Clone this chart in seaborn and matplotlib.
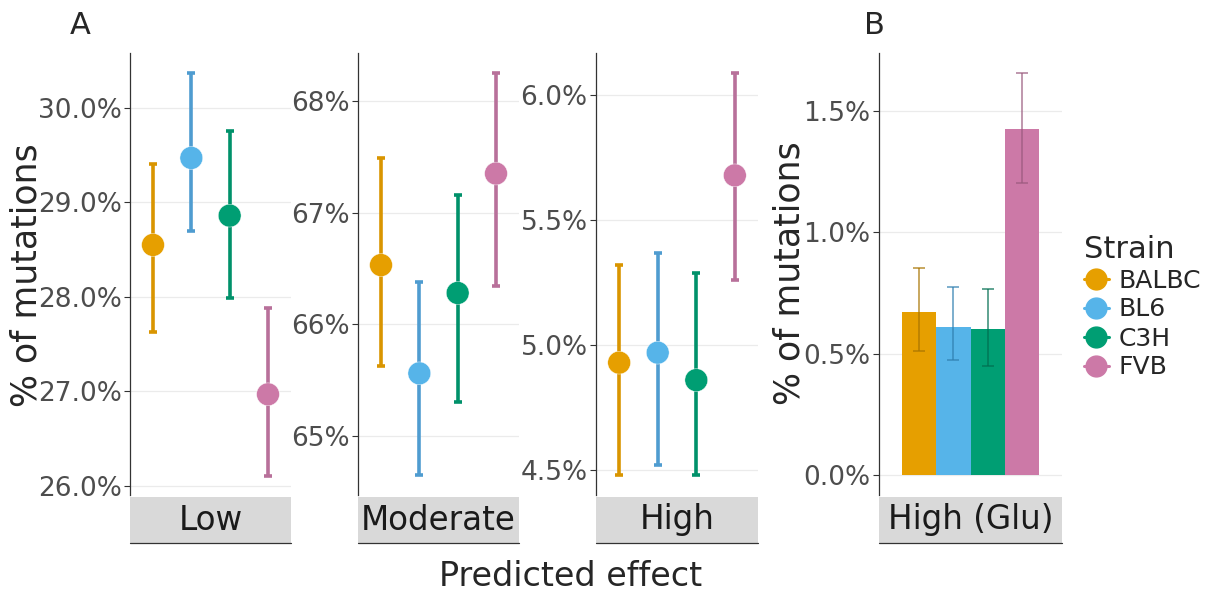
import numpy as np
import pandas as pd
import matplotlib.pyplot as plt
import seaborn as sns
from matplotlib.lines import Line2D
from matplotlib.patches import Rectangle
from matplotlib.ticker import FuncFormatter

sns.set_style("white")
plt.rcParams['font.family'] = ['DejaVu Sans']

# Data (percent of mutations)
strains = ['BALBC', 'BL6', 'C3H', 'FVB']
colors = ['#E69F00', '#56B4E9', '#009E73', '#CC79A7']
err_colors = ['#D99500', '#4F9CD0', '#00916A', '#B8709A']
bar_err_colors = ['#A87400', '#2F7FB0', '#006E50', '#9A5A7E']

low_mean = [28.55, 29.47, 28.86, 26.97]
low_lo = [27.63, 28.70, 27.99, 26.11]
low_hi = [29.41, 30.37, 29.75, 27.88]

mod_mean = [66.53, 65.56, 66.28, 67.35]
mod_lo = [65.63, 64.65, 65.30, 66.34]
mod_hi = [67.49, 66.38, 67.16, 68.25]

high_mean = [4.93, 4.97, 4.86, 5.68]
high_lo = [4.48, 4.52, 4.48, 5.26]
high_hi = [5.32, 5.37, 5.29, 6.09]

glu_mean = [0.672, 0.610, 0.602, 1.426]
glu_lo = [0.511, 0.474, 0.449, 1.203]
glu_hi = [0.853, 0.775, 0.766, 1.656]

W, H = 1212, 594
fig = plt.figure(figsize=(W / 100, H / 100), dpi=100)


def rect(x0, x1, y0, y1):
    return [x0 / W, 1 - y1 / H, (x1 - x0) / W, (y1 - y0) / H]


def style_axis(ax, label, fmt, ticks, ylim):
    ax.set_ylim(*ylim)
    ax.set_yticks(ticks)
    ax.yaxis.set_major_formatter(FuncFormatter(lambda v, p: fmt.format(v)))
    ax.tick_params(axis='y', labelsize=19, labelcolor='#4D4D4D', length=4,
                   width=0.8, color='#333333', left=True, pad=2)
    ax.tick_params(axis='x', bottom=False, labelbottom=False)
    ax.set_xlabel('')
    ax.set_ylabel('')
    for s in ['top', 'right', 'bottom']:
        ax.spines[s].set_visible(False)
    ax.spines['left'].set_color('#333333')
    ax.spines['left'].set_linewidth(0.9)
    ax.grid(axis='y', color='#EBEBEB', lw=0.9)
    ax.grid(axis='x', color='white', lw=1.2)
    ax.set_axisbelow(True)
    # facet strip below the panel
    h = 442.0
    ax.add_patch(Rectangle((0, -48 / h), 1, 46 / h, transform=ax.transAxes,
                           facecolor='#D9D9D9', edgecolor='none', clip_on=False))
    ax.plot([0, 1], [-48 / h, -48 / h], transform=ax.transAxes, color='#333333',
            lw=0.9, clip_on=False)
    ax.text(0.5, -25 / h, label, transform=ax.transAxes, ha='center', va='center',
            fontsize=23.5, color='#1A1A1A')


def point_panel(ax, mean, lo, hi):
    df = pd.DataFrame({'strain': strains, 'mean': mean, 'lo': lo, 'hi': hi})
    df['pos'] = np.arange(len(strains))
    for i, r in df.iterrows():
        ax.errorbar(r['pos'], r['mean'], yerr=[[r['mean'] - r['lo']], [r['hi'] - r['mean']]],
                    color=err_colors[i], lw=2.6, capsize=3, capthick=2.6, zorder=2)
    sns.scatterplot(data=df, x='pos', y='mean', hue='strain', palette=colors,
                    s=270, edgecolor='white', linewidth=0.3, legend=False, ax=ax, zorder=3)
    ax.set_xlim(-0.6, 3.6)
    ax.set_xticks(df['pos'])


ax1 = fig.add_axes(rect(130, 291, 53, 495))
point_panel(ax1, low_mean, low_lo, low_hi)
style_axis(ax1, 'Low', '{:.1f}%', [26, 27, 28, 29, 30], (25.905, 30.58))

ax2 = fig.add_axes(rect(358, 519, 53, 495))
point_panel(ax2, mod_mean, mod_lo, mod_hi)
style_axis(ax2, 'Moderate', '{:.0f}%', [65, 66, 67, 68], (64.47, 68.43))

ax3 = fig.add_axes(rect(596, 758, 53, 495))
point_panel(ax3, high_mean, high_lo, high_hi)
style_axis(ax3, 'High', '{:.1f}%', [4.5, 5.0, 5.5, 6.0], (4.40, 6.17))

# Panel B: bars
ax4 = fig.add_axes(rect(879, 1062, 53, 495))
glu = pd.DataFrame({'effect': 'High (Glu)', 'strain': strains, 'mean': glu_mean,
                    'lo': glu_lo, 'hi': glu_hi})
sns.barplot(data=glu, x='effect', y='mean', hue='strain', palette=colors,
            width=0.9, errorbar=None, legend=False, saturation=1, linewidth=0,
            edgecolor='none', ax=ax4, zorder=2)
ax4.set_xlim(-0.6, 0.6)
for i, p in enumerate(ax4.patches[:len(strains)]):
    cx = p.get_x() + p.get_width() / 2
    m = glu_mean[i]
    ax4.errorbar(cx, m, yerr=[[m - glu_lo[i]], [glu_hi[i] - m]], color=bar_err_colors[i],
                 lw=1.1, capsize=4, capthick=1.1, alpha=0.8, zorder=3)
ax4.set_xticks([0])
style_axis(ax4, 'High (Glu)', '{:.1f}%', [0.0, 0.5, 1.0, 1.5], (-0.082, 1.739))

# Labels
fig.text(27 / W, 1 - 275 / H, '% of mutations', rotation=90, ha='center', va='center',
         fontsize=25)
fig.text(790 / W, 1 - 273 / H, '% of mutations', rotation=90, ha='center', va='center',
         fontsize=25)
fig.text(571 / W, 1 - 577 / H, 'Predicted effect', ha='center', va='center', fontsize=24)
fig.text(80 / W, 1 - 25 / H, 'A', ha='center', va='center', fontsize=22)
fig.text(874 / W, 1 - 25 / H, 'B', ha='center', va='center', fontsize=22)

# Legend
handles = [Line2D([0], [0], color=c, marker='o', markersize=15, lw=2.2) for c in colors]
leg = fig.legend(handles, strains, title='Strain', loc='upper left',
                 bbox_to_anchor=(1071 / W, 1 - 222 / H), frameon=False,
                 fontsize=18, title_fontsize=22, handlelength=1.0, handletextpad=0.4,
                 labelspacing=0.2, borderpad=0)
leg._legend_box.align = 'left'

fig.savefig('out.png', dpi=100)
